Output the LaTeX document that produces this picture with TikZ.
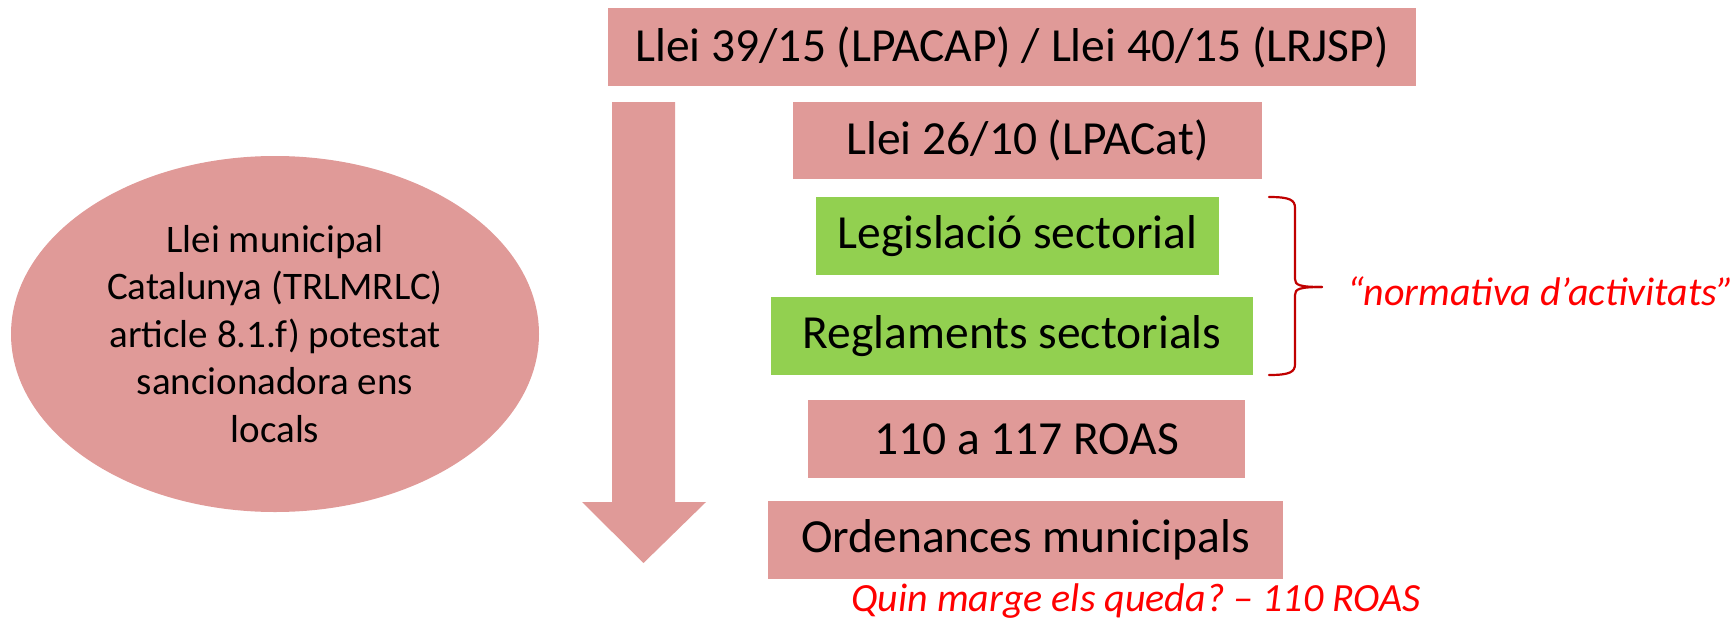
\documentclass[tikz,border=0pt]{standalone}
\usepackage{fontspec}
\setmainfont{Carlito}
\usetikzlibrary{shapes.geometric}
\definecolor{pinkbox}{HTML}{E09A98}
\definecolor{greenbox}{HTML}{92D050}
\definecolor{bracered}{HTML}{C00000}
\definecolor{notered}{HTML}{FF0000}
\frenchspacing
\begin{document}
\begin{tikzpicture}[x=1pt,y=-1pt,
  box/.style={fill=pinkbox, draw=none, inner sep=0pt, minimum height=78pt,
    font=\fontsize{47.5}{57}\selectfont},
  gbox/.style={box, fill=greenbox},
  blob/.style={ellipse, fill=pinkbox, draw=none, inner sep=0pt, align=center,
    font=\fontsize{39}{47.5}\selectfont},
  note/.style={text=notered, inner sep=0pt, font=\fontsize{40}{48}\selectfont\itshape},
  bracestyle/.style={draw=bracered, line width=2.2pt, line cap=round, line join=round}]
\useasboundingbox (0,0) rectangle (1736,618);

\fill[pinkbox] (612,102) -- (675,102) -- (675,502) -- (706,502) -- (643.5,563)
  -- (582,502) -- (612,502) -- cycle;

\node[blob, minimum width=528pt, minimum height=356pt] (municipal) at (275,334)
  {\rule{0pt}{16pt}Llei municipal\\Catalunya (TRLMRLC)\\article 8.1.f) potestat\\sancionadora ens\\locals};

\node[box, minimum width=808pt] (lpacap) at (1012,47) {Llei 39/15 (LPACAP) / Llei 40/15 (LRJSP)};
\node[box, minimum width=469pt, minimum height=77pt] (lpacat) at (1027.5,140.5) {Llei 26/10 (LPACat)};
\node[gbox, minimum width=403pt] (legis) at (1017.5,236) {Legislació sectorial};
\node[gbox, minimum width=482pt] (regl) at (1012,336) {Reglaments sectorials};
\node[box, minimum width=437pt] (roas) at (1026.5,439) {110 a 117 ROAS};
\node[box, minimum width=515pt] (orden) at (1025.5,540) {Ordenances municipals};

\coordinate (btop) at (1269,197);
\coordinate (bbot) at (1269,375);
\coordinate (btip) at (1322,287);
\draw[bracestyle] (btop) .. controls (1290,197) and (1295,200) .. (1295,208)
  -- (1295,279) .. controls (1295,285) and (1299,287) .. (btip);
\draw[bracestyle] (bbot) .. controls (1290,375) and (1295,372) .. (1295,364)
  -- (1295,295) .. controls (1295,289) and (1299,287) .. (btip);

\node[note, anchor=base west] (normativa) at (1347,305) {“normativa d’activitats”};
\node[note] (quin) at (1136,601) {Quin marge els queda? – 110 ROAS};
\end{tikzpicture}
\end{document}
